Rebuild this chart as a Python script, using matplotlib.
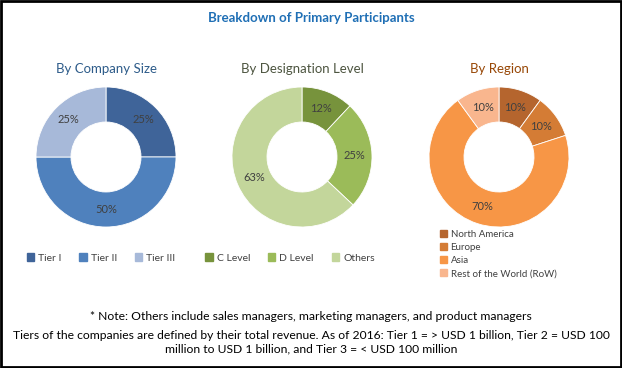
import matplotlib
matplotlib.use("Agg")
import matplotlib.pyplot as plt
import matplotlib.patches as mpatches

plt.rcParams["font.family"] = ["Lato", "DejaVu Sans"]

# ─── Datos ───────────────────────────────────────────────────────────────────
size_labels = ["Tier I", "Tier II", "Tier III"]
size_values = [25, 50, 25]
size_colors = ["#3F6499", "#4F81BD", "#A7B9D9"]

desig_labels = ["C Level", "D Level", "Others"]
desig_values = [12, 25, 63]
desig_colors = ["#77933C", "#9BBB59", "#C3D69B"]

region_labels = ["North America", "Europe", "Asia", "Rest of the World (RoW)"]
region_values = [10, 10, 70, 10]
region_colors = ["#B5652E", "#D47C35", "#F79646", "#F9B68E"]

W, H = 622, 368
fig = plt.figure(figsize=(W / 100, H / 100), dpi=100)


def px_axes(cx, cy, r):
    # cx, cy en pixeles desde arriba-izquierda
    return fig.add_axes([(cx - r) / W, 1 - (cy + r) / H, 2 * r / W, 2 * r / H])


def donut(cx, cy, values, colors, title, title_color):
    ax = px_axes(cx, cy, 70)
    ax.pie(values, colors=colors, startangle=90, counterclock=False, radius=1,
           autopct=lambda p: f"{p:.0f}%", pctdistance=0.75,
           wedgeprops=dict(width=0.5, edgecolor="white", linewidth=0.6),
           textprops=dict(fontsize=8, color="#404040"))
    ax.set_xlim(-1, 1)
    ax.set_ylim(-1, 1)
    ax.set_aspect("equal")
    ax.axis("off")
    fig.text(cx / W, 1 - 69 / H, title, ha="center", va="center",
             fontsize=9.5, color=title_color)
    return ax


donut(106, 157, size_values, size_colors, "By Company Size", "#2E5C8A")
donut(302, 157, desig_values, desig_colors, "By Designation Level", "#4D5540")
donut(499, 157, region_values, region_colors, "By Region", "#984807")

# Leyendas
def handles(labels, colors):
    return [mpatches.Patch(color=c, label=l) for l, c in zip(labels, colors)]

leg_kw = dict(frameon=False, handlelength=0.7, handleheight=0.7,
              handletextpad=0.4, labelcolor="#404040", borderaxespad=0)
fig.legend(handles=handles(size_labels, size_colors), ncol=3, loc="center",
           bbox_to_anchor=(101 / W, 1 - 258 / H), columnspacing=1.7,
           fontsize=7.5, **leg_kw)
fig.legend(handles=handles(desig_labels, desig_colors), ncol=3, loc="center",
           bbox_to_anchor=(290 / W, 1 - 258 / H), columnspacing=1.7,
           fontsize=7.5, **leg_kw)
fig.legend(handles=handles(region_labels, region_colors), ncol=1, loc="upper left",
           bbox_to_anchor=(436 / W, 1 - 226 / H), labelspacing=0.42,
           fontsize=7, **leg_kw)

# Titulo y notas
fig.text(0.5, 1 - 18 / H, "Breakdown of Primary Participants", ha="center",
         va="center", fontsize=9.5, fontweight="bold", color="#1F6FB5")
fig.text(0.5, 1 - 317 / H,
         "* Note: Others include sales managers, marketing managers, and product managers",
         ha="center", va="center", fontsize=8.7, color="black")
fig.text(0.5, 1 - 342 / H,
         "Tiers of the companies are defined by their total revenue. As of 2016: Tier 1 = > USD 1 billion, Tier 2 = USD 100\n"
         "million to USD 1 billion, and Tier 3 = < USD 100 million",
         ha="center", va="center", fontsize=8.7, color="black", linespacing=1.25)

# Marco
fig.patches.append(mpatches.Rectangle((0.0015, 0.0025), 0.997, 0.995, transform=fig.transFigure,
                                      fill=False, edgecolor="black", linewidth=2))

fig.savefig("out.png", dpi=100)
